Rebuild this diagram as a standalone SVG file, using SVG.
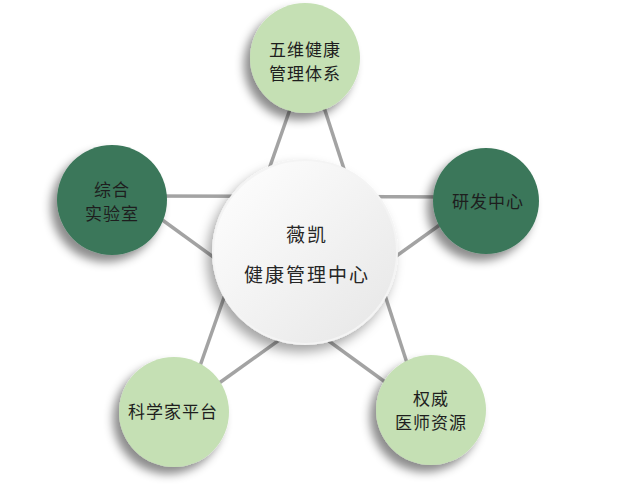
<svg xmlns="http://www.w3.org/2000/svg" width="630" height="499" viewBox="0 0 630 499">
<defs>
  <filter id="sh" x="-40%" y="-40%" width="180%" height="180%">
    <feDropShadow dx="-6" dy="7" stdDeviation="5" flood-color="#000" flood-opacity="0.45"/>
  </filter>
  <filter id="shc" x="-40%" y="-40%" width="180%" height="180%">
    <feDropShadow dx="-5" dy="7" stdDeviation="6" flood-color="#000" flood-opacity="0.35"/>
  </filter>
  <linearGradient id="cg" x1="0" y1="0" x2="1" y2="1">
    <stop offset="0" stop-color="#ffffff"/>
    <stop offset="1" stop-color="#e6e6e6"/>
  </linearGradient>
</defs>
<style>
  .ln { stroke: #a3a3a3; stroke-width: 3.5; fill: none; stroke-linecap: butt; }
  .lg { fill: #c5e0b4; filter: url(#sh); }
  .dg { fill: #3b775a; filter: url(#sh); }
  .t { font-family: "Noto Sans CJK SC", "Noto Sans", sans-serif; font-size: 17px; fill: #1e1e1e; text-anchor: middle; dominant-baseline: central; letter-spacing: 1px; }
  .tc { font-family: "Noto Sans CJK SC", "Noto Sans", sans-serif; font-size: 19px; fill: #262626; text-anchor: middle; dominant-baseline: central; letter-spacing: 2px; }
</style>
<rect width="630" height="499" fill="#ffffff"/>
<g id="connectors">
  <line class="ln" x1="295" y1="95" x2="200" y2="366"/>
  <line class="ln" x1="320" y1="95" x2="407" y2="363"/>
  <line class="ln" x1="140" y1="196" x2="460" y2="197"/>
  <line class="ln" x1="150" y1="211" x2="392" y2="387"/>
  <line class="ln" x1="215" y1="386" x2="455" y2="214"/>
</g>
<g id="node-top">
  <circle class="lg" cx="305" cy="58" r="55"/>
  <text class="t" x="305" y="48">五维健康</text>
  <text class="t" x="305" y="72">管理体系</text>
</g>
<g id="node-left">
  <circle class="dg" cx="112" cy="200" r="55"/>
  <text class="t" x="112" y="188">综合</text>
  <text class="t" x="112" y="212">实验室</text>
</g>
<g id="node-right">
  <circle class="dg" cx="486" cy="201" r="53"/>
  <text class="t" x="488" y="200">研发中心</text>
</g>
<g id="node-bottom-left">
  <circle class="lg" cx="174" cy="412" r="55"/>
  <text class="t" x="173" y="410">科学家平台</text>
</g>
<g id="node-bottom-right">
  <circle class="lg" cx="431" cy="410" r="55"/>
  <text class="t" x="431" y="397">权威</text>
  <text class="t" x="431" y="421">医师资源</text>
</g>
<g id="node-center">
  <circle cx="305" cy="252" r="92" fill="url(#cg)" stroke="#f4f4f4" stroke-width="2" filter="url(#shc)"/>
  <text class="tc" x="307" y="233">薇凯</text>
  <text class="tc" x="307" y="273">健康管理中心</text>
</g>
</svg>
